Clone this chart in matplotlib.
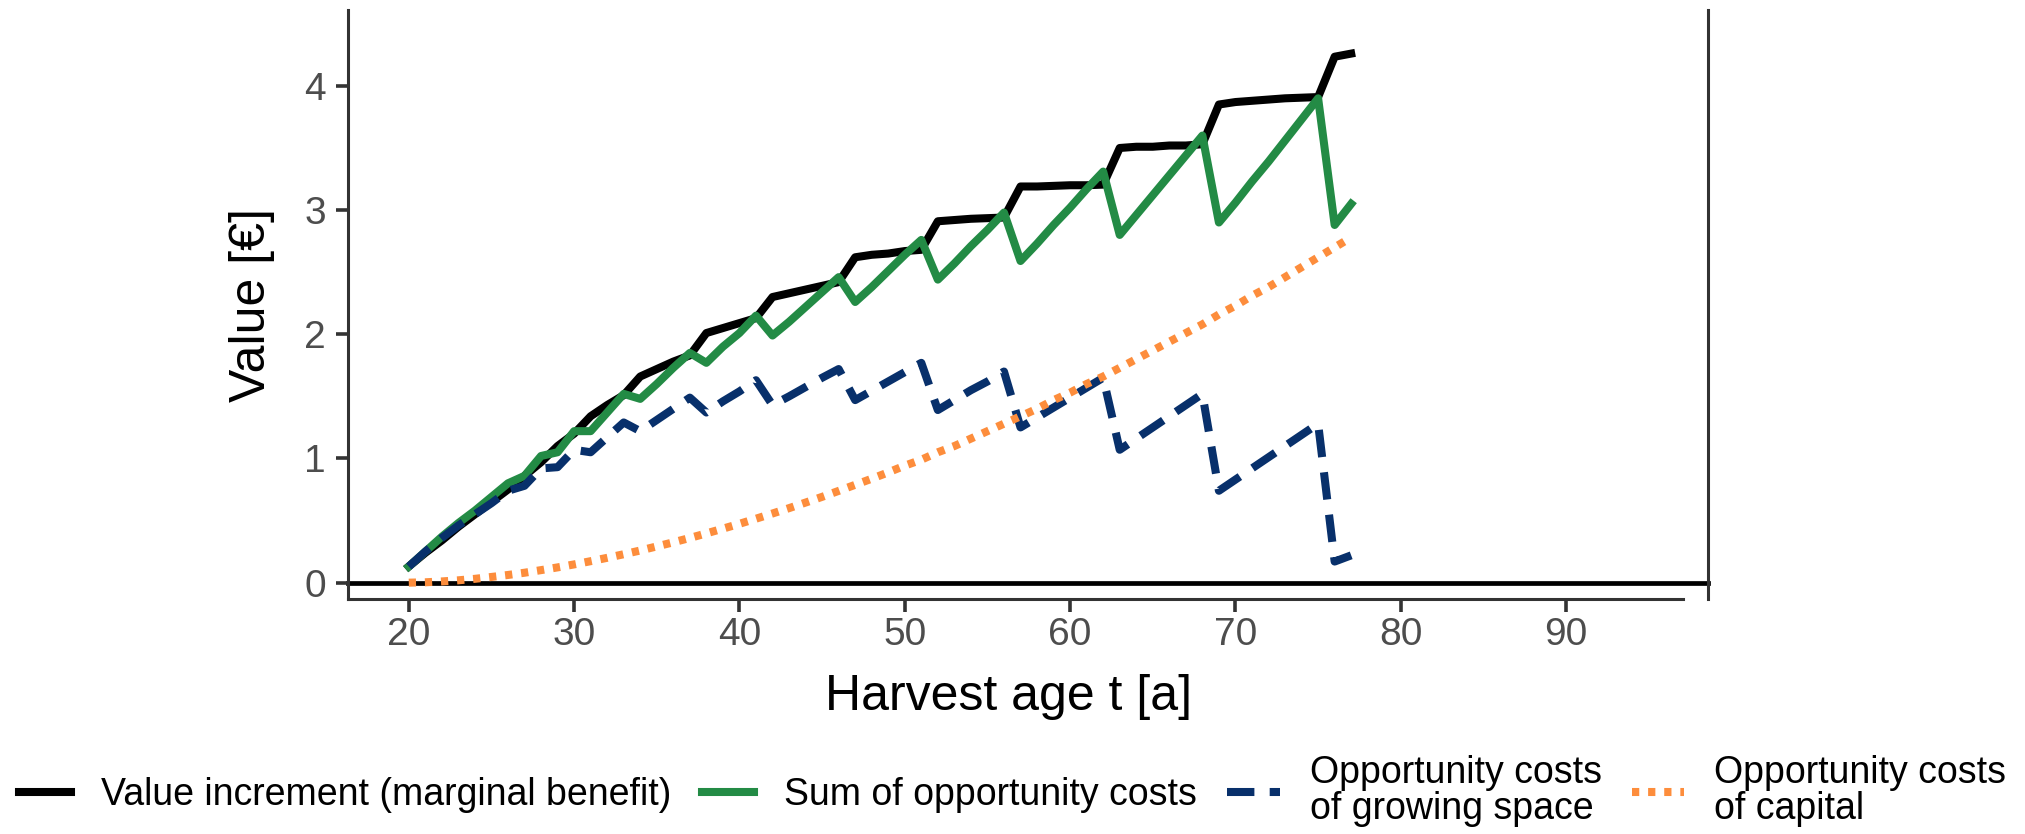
import matplotlib
matplotlib.use('Agg')
import matplotlib.pyplot as plt
from matplotlib.lines import Line2D
import numpy as np

# harvest age t [a]
age = list(range(20, 78))

# value increment (marginal benefit)
value_increment = [0.13, 0.24, 0.34, 0.45, 0.55, 0.65, 0.75, 0.86, 0.97, 1.10,
                   1.20, 1.34, 1.43, 1.51, 1.66, 1.72, 1.78, 1.83, 2.01, 2.05,
                   2.09, 2.13, 2.30, 2.33, 2.36, 2.39, 2.42, 2.62, 2.64, 2.65,
                   2.67, 2.68, 2.91, 2.92, 2.93, 2.935, 2.94, 3.19, 3.19, 3.195,
                   3.20, 3.20, 3.205, 3.50, 3.51, 3.51, 3.52, 3.52, 3.53, 3.85,
                   3.87, 3.88, 3.89, 3.90, 3.905, 3.91, 4.235, 4.26]

# sum of opportunity costs
sum_costs = [0.13, 0.25, 0.37, 0.48, 0.58, 0.69, 0.80, 0.86, 1.02, 1.05,
             1.22, 1.22, 1.37, 1.52, 1.48, 1.60, 1.73, 1.85, 1.77, 1.90,
             2.01, 2.15, 1.99, 2.10, 2.22, 2.34, 2.46, 2.26, 2.38, 2.51,
             2.64, 2.76, 2.44, 2.57, 2.71, 2.84, 2.98, 2.59, 2.73, 2.88,
             3.02, 3.17, 3.31, 2.80, 2.96, 3.12, 3.28, 3.44, 3.60, 2.90,
             3.06, 3.23, 3.39, 3.56, 3.73, 3.90, 2.88, 3.05]

# opportunity costs of growing space
space_costs = [0.13, 0.25, 0.36, 0.46, 0.55, 0.64, 0.74, 0.78, 0.92, 0.93,
               1.07, 1.05, 1.17, 1.29, 1.22, 1.31, 1.40, 1.49, 1.37, 1.46,
               1.54, 1.63, 1.43, 1.50, 1.575, 1.65, 1.72, 1.47, 1.545, 1.62,
               1.695, 1.77, 1.39, 1.47, 1.55, 1.62, 1.70, 1.25, 1.33, 1.41,
               1.49, 1.57, 1.65, 1.07, 1.16, 1.25, 1.34, 1.43, 1.52, 0.74,
               0.83, 0.92, 1.01, 1.10, 1.19, 1.28, 0.17, 0.22]

# opportunity costs of capital
capital_costs = [0.0, 0.003, 0.01, 0.019, 0.031, 0.046, 0.062, 0.080, 0.101, 0.123,
                 0.147, 0.173, 0.200, 0.229, 0.259, 0.292, 0.325, 0.360, 0.397, 0.435,
                 0.474, 0.515, 0.557, 0.600, 0.645, 0.691, 0.739, 0.788, 0.837, 0.888,
                 0.942, 0.99, 1.05, 1.10, 1.16, 1.22, 1.28, 1.34, 1.40, 1.47,
                 1.53, 1.60, 1.66, 1.73, 1.80, 1.87, 1.94, 2.01, 2.08, 2.16,
                 2.23, 2.31, 2.38, 2.46, 2.54, 2.62, 2.70, 2.78]

labels = ['Value increment (marginal benefit)', 'Sum of opportunity costs',
          'Opportunity costs\nof growing space', 'Opportunity costs\nof capital']
xticks = [20, 30, 40, 50, 60, 70, 80, 90]
yticks = [0, 1, 2, 3, 4]

c_black = 'black'
c_green = '#238B45'
c_navy = '#08306B'
c_orange = '#FD8D3C'
axc = '#333333'
lw = 5.8
dash = (0, (3.4, 1.9))
dots = (0, (0.9, 1.1))

plt.rcParams['font.family'] = ['Liberation Sans', 'DejaVu Sans']

fig = plt.figure(figsize=(20.25, 8.34), dpi=100)
ax = fig.add_axes([0.1719, 0.2814, 0.6593, 0.7066])

x_lo, x_hi, x_edge = 16.33, 97.08, 98.6
ax.set_xlim(x_lo, x_hi)
ax.set_ylim(-0.134, 4.611)

# zero line and right border run a bit past the panel
ax.plot([x_lo, x_edge], [0, 0], color='black', lw=3.4, clip_on=False, zorder=1.5)
ax.plot([x_edge, x_edge], [-0.134, 4.611], color=axc, lw=2.2, clip_on=False, zorder=1.5)

ax.plot(age, value_increment, color=c_black, lw=lw, solid_joinstyle='round', zorder=2)
ax.plot(age, sum_costs, color=c_green, lw=lw, solid_joinstyle='round', zorder=3)
ax.plot(age, space_costs, color=c_navy, lw=lw, linestyle=dash,
        dash_joinstyle='round', zorder=4)
ax.plot(age, capital_costs, color=c_orange, lw=lw, linestyle=dots, zorder=5)

for s in ['top', 'right']:
    ax.spines[s].set_visible(False)
for s in ['left', 'bottom']:
    ax.spines[s].set_color(axc)
    ax.spines[s].set_linewidth(2.2)

ax.set_xticks(xticks)
ax.set_yticks(yticks)
ax.tick_params(axis='both', length=9, width=2.6, color=axc, labelsize=28, labelcolor='#4D4D4D')
ax.tick_params(axis='x', pad=4)
ax.tick_params(axis='y', pad=7)

ax.set_xlabel('Harvest age t [a]', fontsize=36, va='center')
ax.xaxis.set_label_coords(0.495, -0.166)
ax.set_ylabel('Value [€]', fontsize=36, va='center')
ax.yaxis.set_label_coords(-0.072, 0.5)

handles = [Line2D([], [], color=c_black, lw=lw),
           Line2D([], [], color=c_green, lw=lw),
           Line2D([], [], color=c_navy, lw=lw, linestyle=dash),
           Line2D([], [], color=c_orange, lw=lw, linestyle=dots)]
leg = fig.legend(handles, labels, loc='center', bbox_to_anchor=(0.5, 0.052), ncol=4,
                 frameon=False, fontsize=27, handlelength=1.4, handletextpad=0.8,
                 columnspacing=0.8)
for t in leg.get_texts():
    t.set_linespacing(1.0)

fig.savefig('out.png', dpi=100)
plt.close()
